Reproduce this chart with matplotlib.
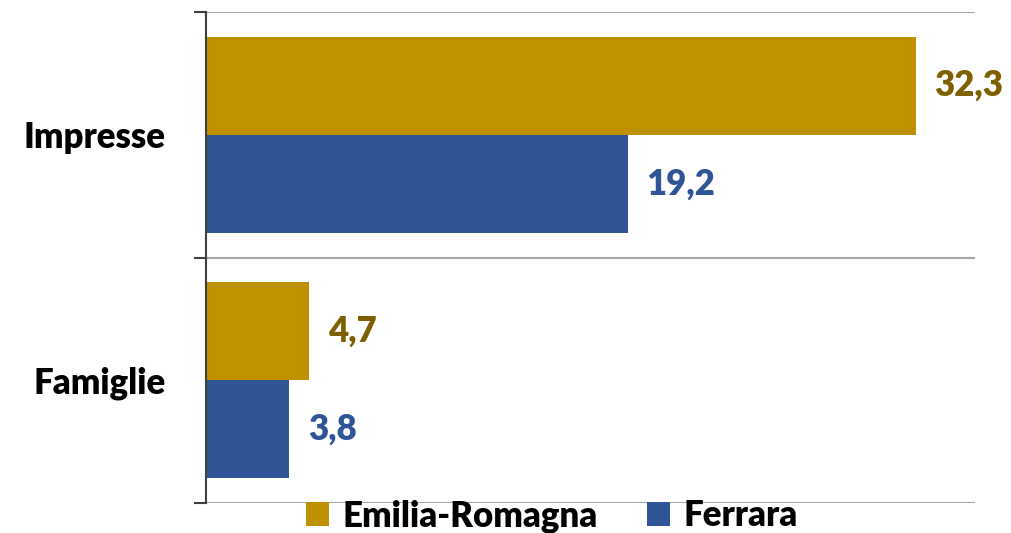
import matplotlib.pyplot as plt
import numpy as np

categories = ["Impresse", "Famiglie"]
series_names = ["Emilia-Romagna", "Ferrara"]
emilia_romagna = [32.3, 4.7]
ferrara = [19.2, 3.8]

gold = "#BF9000"
blue = "#2F5597"
gold_text = "#7F6000"

plt.rcParams["font.family"] = ["Lato", "DejaVu Sans"]
fw = "heavy"

fig = plt.figure(figsize=(10.11, 5.33), dpi=100)
ax = fig.add_axes([206 / 1011, 1 - 503 / 533, (975 - 206) / 1011, (503 - 12) / 533])

# top category first
pos = np.arange(len(categories))[::-1].astype(float)
h = 0.4
ax.barh(pos + h / 2, emilia_romagna, height=h, color=gold, label=series_names[0])
ax.barh(pos - h / 2, ferrara, height=h, color=blue, label=series_names[1])

for p, v in zip(pos, emilia_romagna):
    ax.text(v + 0.85, p + h / 2, f"{v:.1f}".replace(".", ","), va="center", ha="left",
            fontsize=25, fontweight=fw, color=gold_text)
for p, v in zip(pos, ferrara):
    ax.text(v + 0.85, p - h / 2, f"{v:.1f}".replace(".", ","), va="center", ha="left",
            fontsize=25, fontweight=fw, color=blue)

ax.set_xlim(0, 35)
ax.set_ylim(-0.5, len(categories) - 0.5)

# category labels at centres, separator ticks at boundaries
ax.set_yticks(pos)
ax.set_yticklabels(categories, fontsize=25, fontweight=fw)
ax.tick_params(axis="y", which="major", length=0, pad=29)
bounds = np.arange(len(categories) + 1) - 0.5
ax.set_yticks(bounds, minor=True)
ax.tick_params(axis="y", which="minor", length=9, width=1.5, color="#404040")
ax.set_xticks([])

for b in bounds:
    ax.axhline(b, color="#A6A6A6", lw=1.5, zorder=0)

for s in ["top", "right", "bottom"]:
    ax.spines[s].set_visible(False)
ax.spines["left"].set_color("#404040")
ax.spines["left"].set_linewidth(1.5)

leg = ax.legend(loc="center", bbox_to_anchor=(552 / 1011, 17 / 533), bbox_transform=fig.transFigure,
                ncol=2, frameon=False, prop={"size": 25, "weight": fw},
                handlelength=0.66, handleheight=0.66, handletextpad=0.4, columnspacing=1.4,
                borderpad=0.1)

fig.savefig("out.png", dpi=100)
